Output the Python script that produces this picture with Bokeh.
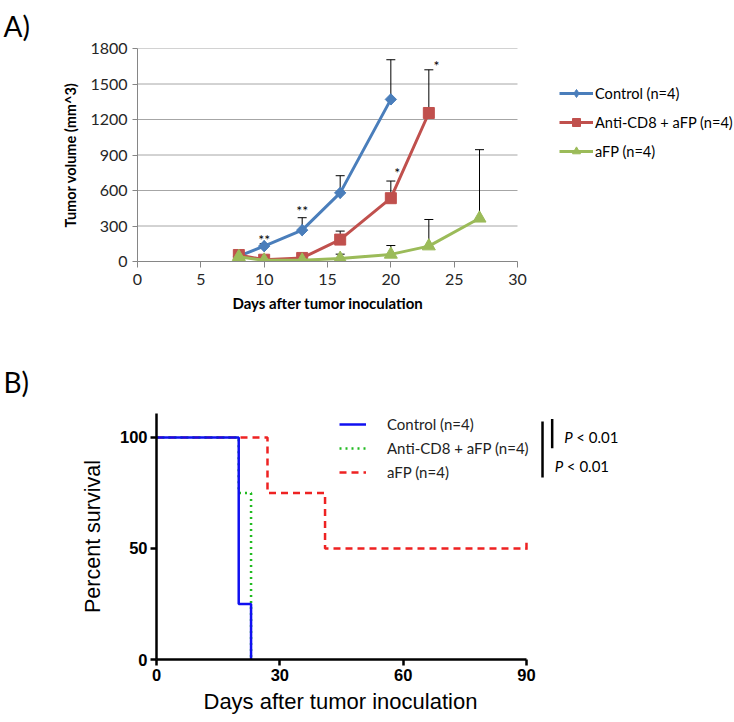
import math
from bokeh.plotting import figure
from bokeh.models import (Range1d, Legend, LegendItem, Whisker, TeeHead, Title,
                          ColumnDataSource, FixedTicker)
from bokeh.core.properties import value
from bokeh.embed import file_html
from bokeh.resources import INLINE

# ---------------- Panel A data ----------------
days_control = [8, 10, 13, 16, 20]
vol_control = [45, 130, 265, 580, 1370]
err_control = [10, 20, 105, 145, 335]

days_cd8 = [8, 10, 13, 16, 20, 23]
vol_cd8 = [55, 15, 30, 185, 535, 1255]
err_cd8 = [10, 5, 15, 72, 145, 365]

days_afp = [8, 10, 13, 16, 20, 23, 27]
vol_afp = [40, 10, 10, 25, 60, 130, 365]
err_afp = [8, 5, 5, 37, 75, 225, 580]

sig_days = [10, 13, 20.5, 23.6]
sig_vol = [190, 430, 750, 1660]
sig_text = ["**", "**", "*", "*"]

xticks_A = [0, 5, 10, 15, 20, 25, 30]
yticks_A = [0, 300, 600, 900, 1200, 1500, 1800]

labels_A = ["Control (n=4)", "Anti-CD8 + aFP (n=4)", "aFP (n=4)"]
colors_A = ["#4A7EBB", "#C0504D", "#9BBB59"]

# ---------------- Panel B data ----------------
surv_days_control = [0, 20, 23]
surv_control = [100, 25, 0]
surv_days_cd8 = [0, 20, 23]
surv_cd8 = [100, 75, 0]
surv_days_afp = [0, 27, 41, 90]
surv_afp = [100, 75, 50, 50]
censor_days_afp = [90]
censor_afp = [51]

xticks_B = [0, 30, 60, 90]
yticks_B = [0, 50, 100]
labels_B = ["Control (n=4)", "Anti-CD8 + aFP (n=4)", "aFP (n=4)"]
colors_B = ["#1010F0", "#22BB22", "#EE2222"]

bracket_x = [96.25, 93.9]
bracket_y0 = [95.2, 82.0]
bracket_y1 = [108.3, 107.2]
pval_x = [99.2, 96.9]
pval_y = [100.3, 87.0]
pval_P = ["P", "P"]
pval_rest = ["< 0.01", "< 0.01"]

FONT_C = "Lato"
FONT_A = "Liberation Sans"

# ================= Panel A =================
pA = figure(width=734, height=322, x_range=Range1d(0, 47.13), y_range=Range1d(0, 1800),
            output_backend="svg", toolbar_location=None,
            min_border_left=137, min_border_right=0, min_border_top=46, min_border_bottom=61)
pA.outline_line_color = None
pA.grid.grid_line_color = None
pA.xaxis.ticker = FixedTicker(ticks=xticks_A)
pA.yaxis.ticker = FixedTicker(ticks=yticks_A)
pA.xaxis.bounds = (xticks_A[0], xticks_A[-1])
for ax in (pA.xaxis[0], pA.yaxis[0]):
    ax.axis_line_color = "#868686"
    ax.major_tick_line_color = "#868686"
    ax.minor_tick_line_color = None
    ax.major_tick_in = 0
    ax.major_label_text_font = FONT_C
    ax.major_label_text_font_size = "16px"
    ax.major_label_text_color = "#262626"
    ax.axis_label_text_font = FONT_C
    ax.axis_label_text_font_size = "14.5px"
    ax.axis_label_text_font_style = "bold"
    ax.axis_label_text_color = "#000000"
pA.xaxis.major_tick_out = 6
pA.xaxis.major_label_standoff = 6
pA.yaxis.major_tick_out = 5
pA.yaxis.major_label_standoff = 5
pA.yaxis.axis_label = "Tumor volume (mm^3)"
pA.yaxis.axis_label_standoff = 8

pA.title.text = "A)"
pA.title.align = "left"
pA.title.offset = -134
pA.title.standoff = 12
pA.title.text_font = FONT_C
pA.title.text_font_size = "28px"
pA.title.text_font_style = "normal"
pA.title.text_color = "#000000"

pA.add_layout(Title(text="Days after tumor inoculation", align="left", offset=95,
                    vertical_align="top", standoff=12, text_font=FONT_C,
                    text_font_size="15px", text_font_style="bold", text_color="#000000"),
              "below")

# horizontal gridlines limited to the axis extent
pA.segment(x0=xticks_A[0], x1=xticks_A[-1], y0=yticks_A[1:], y1=yticks_A[1:],
           line_color="#A6A6A6", line_width=1, level="underlay")

# (days, volume, error, marker, size, angle, legend-marker, legend-size)
series = [
    (days_control, vol_control, err_control, "square", 8, math.pi / 4, "diamond", 11),
    (days_cd8, vol_cd8, err_cd8, "square", 11, 0, None, None),
    (days_afp, vol_afp, err_afp, "triangle", 13, 0, None, None),
]
items = []
for (d, v, e, mk, sz, ang, lmk, lsz), col, lab in zip(series, colors_A, labels_A):
    src = ColumnDataSource(dict(x=d, y=v, upper=[a + b for a, b in zip(v, e)]))
    w = Whisker(source=src, base="x", lower="y", upper="upper", dimension="height",
                line_color="black", line_width=1,
                upper_head=TeeHead(size=9, line_color="black", line_width=1),
                lower_head=None, level="underlay")
    pA.add_layout(w)
for (d, v, e, mk, sz, ang, lmk, lsz), col, lab in zip(series, colors_A, labels_A):
    ln = pA.line(d, v, line_color=col, line_width=3)
    if lmk is not None:
        # diamond hidden beneath the rotated squares; gives the legend a diamond swatch
        lsc = pA.scatter(d, v, marker=lmk, size=lsz, fill_color=col, line_color=col)
        pA.scatter(d, v, marker=mk, size=sz, angle=ang, fill_color=col, line_color=col)
    else:
        lsc = pA.scatter(d, v, marker=mk, size=sz, angle=ang, fill_color=col, line_color=col)
    items.append(LegendItem(label=lab, renderers=[ln, lsc]))

pA.text(x=sig_days, y=sig_vol, text=sig_text, text_align="center", text_baseline="middle",
        text_font=value(FONT_C), text_font_size="14px", text_color="#000000")

legA = Legend(items=items, location=(422, 100), padding=0, margin=0, spacing=9,
              glyph_width=34, glyph_height=20, label_height=20, label_standoff=2,
              label_text_font=FONT_C, label_text_font_size="14.6px", label_text_color="#000000",
              border_line_color=None, background_fill_alpha=0)
pA.add_layout(legA)

# ================= Panel B =================
pB = figure(width=734, height=400, x_range=Range1d(0, 140.6), y_range=Range1d(0, 110.8),
            output_backend="svg", toolbar_location=None,
            min_border_left=156, min_border_right=0, min_border_top=91, min_border_bottom=63)
pB.outline_line_color = None
pB.grid.grid_line_color = None
pB.xaxis.ticker = FixedTicker(ticks=xticks_B)
pB.yaxis.ticker = FixedTicker(ticks=yticks_B)
pB.xaxis.bounds = (xticks_B[0], xticks_B[-1])
for ax in (pB.xaxis[0], pB.yaxis[0]):
    ax.axis_line_color = "black"
    ax.axis_line_width = 2.5
    ax.major_tick_line_color = "black"
    ax.major_tick_line_width = 2.5
    ax.major_tick_in = 0
    ax.major_tick_out = 6
    ax.minor_tick_line_color = None
    ax.major_label_text_font = FONT_A
    ax.major_label_text_font_size = "16.5px"
    ax.major_label_text_font_style = "bold"
    ax.major_label_text_color = "black"
    ax.axis_label_text_font = FONT_A
    ax.axis_label_text_font_size = "21.5px"
    ax.axis_label_text_font_style = "normal"
    ax.axis_label_text_color = "black"
pB.xaxis.major_label_standoff = 3
pB.yaxis.major_label_standoff = 3
pB.yaxis.axis_label = "Percent survival"
pB.yaxis.axis_label_standoff = 12

pB.title.text = "B)"
pB.title.align = "left"
pB.title.offset = -153
pB.title.standoff = 30
pB.title.text_font = FONT_C
pB.title.text_font_size = "28px"
pB.title.text_font_style = "normal"
pB.title.text_color = "#000000"

pB.add_layout(Title(text="Days after tumor inoculation", align="left", offset=47,
                    vertical_align="top", standoff=10, text_font=FONT_A,
                    text_font_size="22px", text_font_style="normal", text_color="#000000"),
              "below")

rR = pB.step(surv_days_afp, surv_afp, mode="after", line_color=colors_B[2], line_width=2.5,
             line_dash="7 5")
pB.scatter(censor_days_afp, censor_afp, marker="dash", angle=math.pi / 2, size=7,
           line_color=colors_B[2], line_width=2.5)
rG = pB.step(surv_days_cd8, surv_cd8, mode="after", line_color=colors_B[1], line_width=2.5,
             line_dash="2 4")
rC = pB.step(surv_days_control, surv_control, mode="after", line_color=colors_B[0],
             line_width=2.5)

pB.segment(x0=bracket_x, y0=bracket_y0, x1=bracket_x, y1=bracket_y1, line_color="black",
           line_width=2.5)
pB.text(x=pval_x, y=pval_y, text=pval_P, text_font=value(FONT_C), text_font_size="15px",
        text_font_style="italic", text_baseline="middle", text_color="black")
pB.text(x=pval_x, y=pval_y, text=pval_rest, text_font=value(FONT_C), text_font_size="15px",
        text_baseline="middle", text_color="black", x_offset=12)

legB = Legend(items=[LegendItem(label=labels_B[0], renderers=[rC]),
                     LegendItem(label=labels_B[1], renderers=[rG]),
                     LegendItem(label=labels_B[2], renderers=[rR])],
              location=(183, 178), padding=0, margin=0, spacing=6,
              glyph_width=27, glyph_height=18, label_height=18, label_standoff=21,
              label_text_font=FONT_C, label_text_font_size="15px", label_text_color="#222222",
              border_line_color=None, background_fill_alpha=0)
pB.add_layout(legB)

open("out.html", "w").write(file_html([pA, pB], INLINE))
